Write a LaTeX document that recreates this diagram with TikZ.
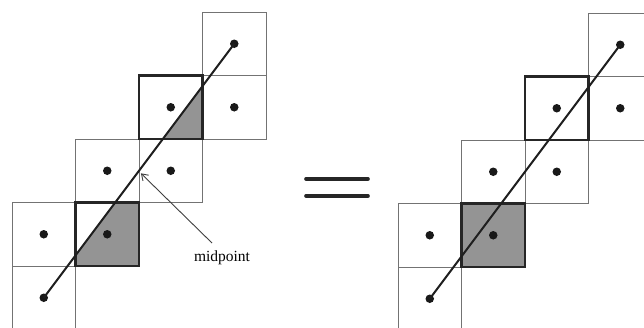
\documentclass[tikz,border=0pt]{standalone}
\usetikzlibrary{arrows.meta}
\usepackage{fontspec}
\setmainfont{Liberation Serif}
\begin{document}
\begin{tikzpicture}[x=1pt,y=-1pt,
  gridcell/.style={draw=black!55, line width=0.9pt},
  thickbox/.style={draw=black!85, line width=2.8pt},
  shade/.style={fill=black!42},
  dot/.style={circle, fill=black!90, inner sep=0pt, minimum size=8.5pt},
  seg/.style={draw=black!88, line width=2pt},
  eqbar/.style={draw=black!85, line width=3.6pt, line cap=round},
  pointer/.style={draw=black!75, line width=0.9pt, -{Straight Barb[length=6pt,width=8pt]}}]
\useasboundingbox (0,0) rectangle (644,327);
\clip (0,0) rectangle (644,327);
\fill[white] (0,0) rectangle (644,327);

% ---------- left figure ----------
\begin{scope}[shift={(12,12)}, x=63.5pt, y=-63.5pt]
  \fill[shade] (3,1.16667) -- (3,2) -- (2.375,2) -- cycle;
  \fill[shade] (1,3.83333) -- (1.625,3) -- (2,3) -- (2,4) -- (1,4) -- cycle;
  \foreach \c/\r in {3/0,2/1,3/1,1/2,2/2,0/3,1/3,0/4}
    \draw[gridcell] (\c,\r) rectangle ++(1,1);
  \draw[thickbox] (2,1) rectangle ++(1,1);
  \draw[thickbox] (1,3) rectangle ++(1,1);
  \node[dot] (La) at (0.5,4.5) {};
  \node[dot] (Lb) at (3.5,0.5) {};
  \draw[seg] (La.center) -- (Lb.center);
  \foreach \c/\r [count=\i] in {3/1,2/1,1/2,2/2,0/3,1/3}
    \node[dot] (Ld\i) at (\c+0.5,\r+0.5) {};
  \coordinate (mp) at (2.03,2.54);
\end{scope}

% ---------- label ----------
\node[font=\fontsize{15.5}{18}\selectfont] (mid) at (222,258) {midpoint};
\coordinate (tail) at (212,243);
\draw[pointer] (tail) -- (mp);

% ---------- equals sign ----------
\draw[eqbar] (306,179) -- (368,179);
\draw[eqbar] (306,196) -- (368,196);

% ---------- right figure ----------
\begin{scope}[shift={(398,13)}, x=63.5pt, y=-63.5pt]
  \fill[shade] (1,3) rectangle ++(1,1);
  \foreach \c/\r in {3/0,2/1,3/1,1/2,2/2,0/3,1/3,0/4}
    \draw[gridcell] (\c,\r) rectangle ++(1,1);
  \draw[thickbox] (2,1) rectangle ++(1,1);
  \draw[thickbox] (1,3) rectangle ++(1,1);
  \node[dot] (Ra) at (0.5,4.5) {};
  \node[dot] (Rb) at (3.5,0.5) {};
  \draw[seg] (Ra.center) -- (Rb.center);
  \foreach \c/\r [count=\i] in {3/1,2/1,1/2,2/2,0/3,1/3}
    \node[dot] (Rd\i) at (\c+0.5,\r+0.5) {};
\end{scope}
\end{tikzpicture}
\end{document}
